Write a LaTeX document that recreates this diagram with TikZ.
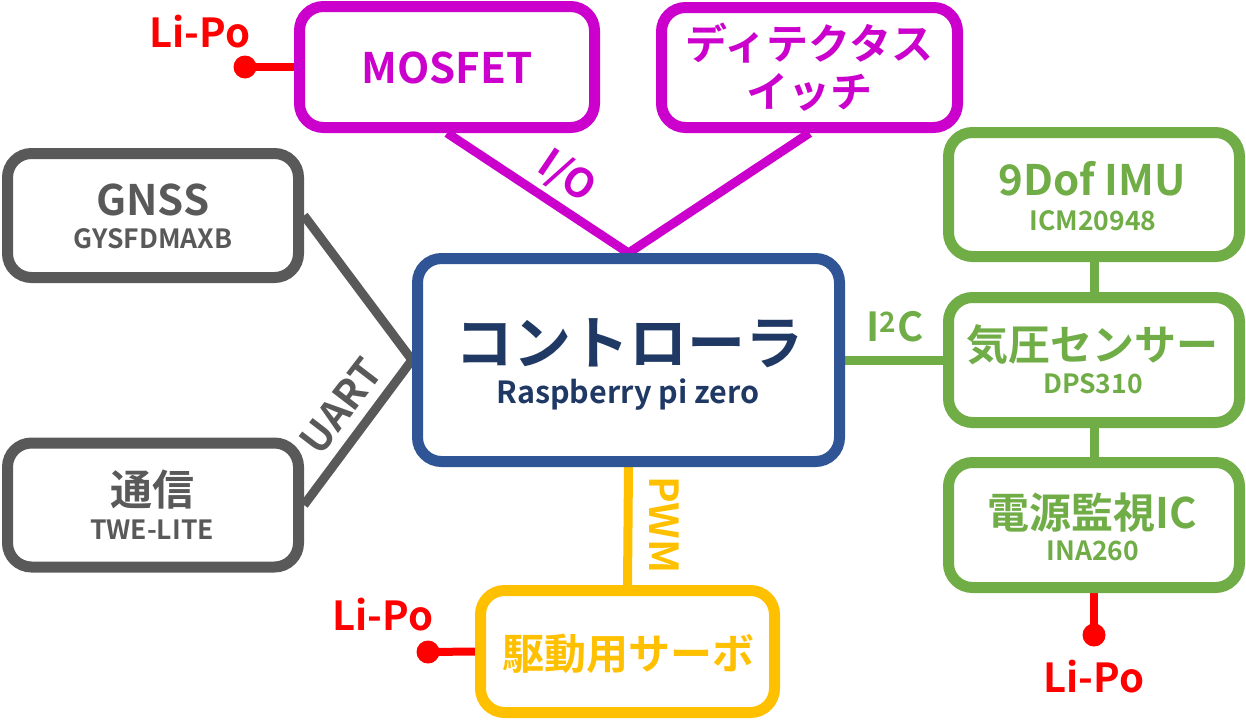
\documentclass[tikz,border=0pt]{standalone}
\usepackage{fontspec}
\setmainfont{Noto Sans CJK JP}[BoldFont=* Bold]
\usetikzlibrary{backgrounds}
\definecolor{mag}{RGB}{204,0,204}
\definecolor{gry}{RGB}{89,89,89}
\definecolor{blu}{RGB}{47,85,151}
\definecolor{dblu}{RGB}{31,56,100}
\definecolor{grn}{RGB}{112,173,71}
\definecolor{ylw}{RGB}{255,192,0}
\definecolor{rd}{RGB}{255,0,0}
\tikzset{
 boxst/.style={draw, line width=11pt, rounded corners=24pt, fill=white, minimum width=291pt, minimum height=124pt, inner sep=0pt},
 connst/.style={line width=9pt},
 redst/.style={line width=8pt, rd},
 titlest/.style={font=\bfseries\fontsize{42}{46}\selectfont, anchor=base, inner sep=0pt},
 subst/.style={font=\bfseries\fontsize{26.5}{30}\selectfont, anchor=base, inner sep=0pt},
 lipost/.style={font=\bfseries\fontsize{40}{44}\selectfont, anchor=base, inner sep=0pt, text=rd},
 dotst/.style={circle, fill=rd, minimum size=23pt, inner sep=0pt},
 lblst/.style={font=\bfseries\fontsize{40}{44}\selectfont, inner sep=0pt},
}
\begin{document}
\begin{tikzpicture}[x=1pt,y=-1pt]
\useasboundingbox (0,0) rectangle (1246,723);
% boxes
\node[boxst, draw=mag, minimum width=295pt, minimum height=121pt] (mosfet) at (447,67) {};
\node[boxst, draw=mag, minimum width=296pt, minimum height=120pt] (det) at (809.5,67.5) {};
\node[boxst, draw=gry] (gnss) at (153,215.5) {};
\node[boxst, draw=gry] (tsu) at (153,505) {};
\node[boxst, draw=blu, minimum width=422pt, minimum height=203pt] (ctrl) at (628.5,360) {};
\node[boxst, draw=grn] (imu) at (1094,194.5) {};
\node[boxst, draw=grn, minimum height=125pt] (kia) at (1094,360) {};
\node[boxst, draw=grn, minimum height=125pt] (den) at (1094,525) {};
\node[boxst, draw=ylw, minimum width=294pt, minimum height=122pt] (servo) at (627.5,651.5) {};
% texts
\node[titlest, text=mag] (tmos) at (447,83) {MOSFET};
\node[titlest, text=mag] (tdet1) at (809.5,59.5) {ディテクタス};
\node[titlest, text=mag] (tdet2) at (809.5,107.5) {イッチ};
\node[titlest, text=gry] (tgnss) at (153,215) {GNSS};
\node[subst, text=gry] (sgnss) at (153,248) {GYSFDMAXB};
\node[titlest, text=gry] (ttsu) at (152,505) {通信};
\node[subst, text=gry] (stsu) at (152,539) {TWE-LITE};
\node[titlest, text=dblu, font=\bfseries\fontsize{58}{62}\selectfont] (tctrl) at (629,364) {コントローラ};
\node[subst, text=dblu, font=\bfseries\fontsize{30.5}{34}\selectfont] (sctrl) at (628,403) {Raspberry pi zero};
\node[titlest, text=grn] (timu) at (1092,195) {9Dof IMU};
\node[subst, text=grn] (simu) at (1093,230) {ICM20948};
\node[titlest, text=grn] (tkia) at (1092,360) {気圧センサー};
\node[subst, text=grn] (skia) at (1093,393) {DPS310};
\node[titlest, text=grn] (tden) at (1092,528) {電源監視IC};
\node[subst, text=grn] (sden) at (1093,560) {INA260};
\node[titlest, text=ylw] (tservo) at (628,669) {駆動用サーボ};
% connector labels
\node[lblst, text=mag, rotate=-34] (lio) at (567,177) {I/O};
\node[lblst, text=gry, rotate=52.5] (luart) at (341,406) {UART};
\node[lblst, text=ylw, rotate=-90] (lpwm) at (664,525) {PWM};
\node[lblst, text=grn] (li2c) at (895,327) {I\textsuperscript{2}C};
% Li-Po
\node[lipost] (lp1) at (200,47) {Li-Po};
\node[lipost] (lp2) at (383,630) {Li-Po};
\node[lipost] (lp3) at (1094,692) {Li-Po};
\node[dotst] (d1) at (245,67) {};
\node[dotst] (d2) at (428,652) {};
\node[dotst] (d3) at (1094,635) {};
% connectors
\begin{scope}[on background layer]
\draw[connst, mag] (mosfet.south) -- (ctrl.north) -- (det.south);
\draw[connst, gry] (gnss.east) -- (ctrl.west) -- (tsu.east);
\draw[connst, grn] (ctrl.east) -- (kia.west);
\draw[connst, grn] (imu.south) -- (kia.north);
\draw[connst, grn] (kia.south) -- (den.north);
\draw[connst, ylw] (ctrl.south) -- (servo.north);
\draw[redst] (d1.center) -- (mosfet.west);
\draw[redst] (d2.center) -- (servo.west);
\draw[redst] (d3.center) -- (den.south);
\end{scope}
\end{tikzpicture}
\end{document}
